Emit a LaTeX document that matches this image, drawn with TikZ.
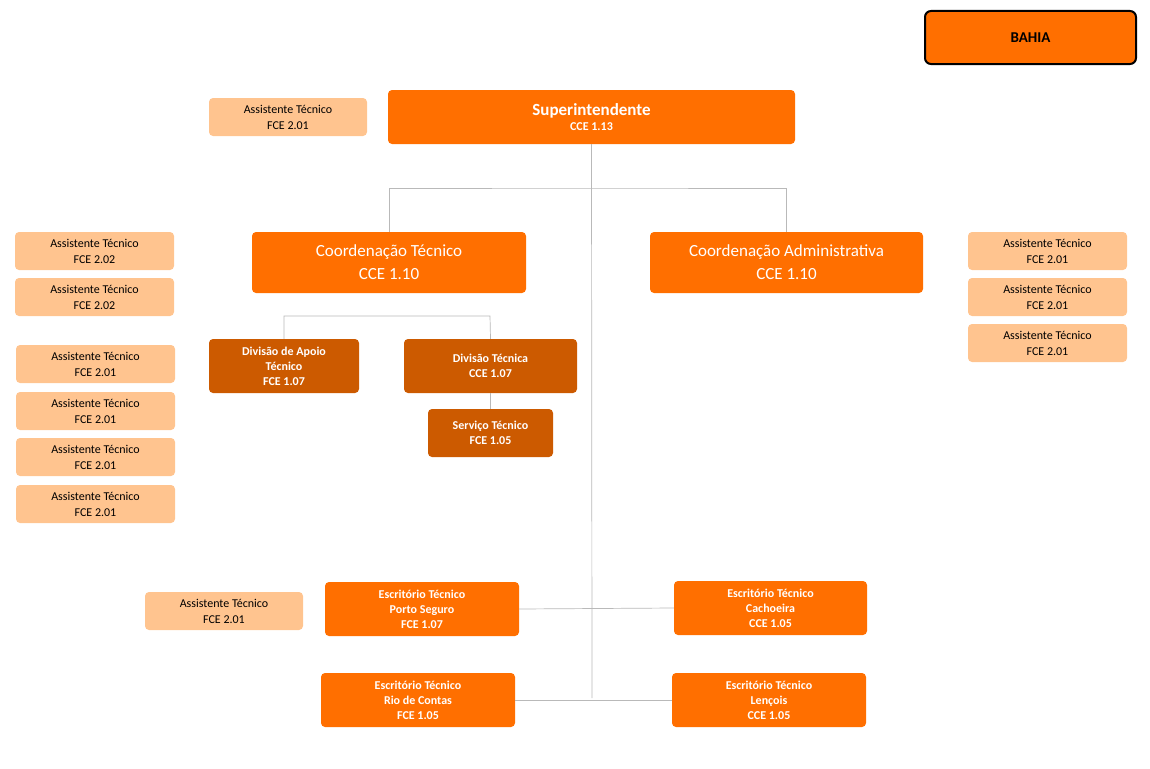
\documentclass[tikz,border=0pt]{standalone}
\usepackage{fontspec}
\setmainfont{Carlito}
\begin{document}
\begin{tikzpicture}[x=1pt,y=-1pt,
 box/.style={rounded corners=4pt,align=center,inner sep=0pt,font=\fontsize{12}{15}\selectfont\bfseries,text=white},
 main/.style={box,fill=orange!90!red,fill=orgC},
 big/.style={box,fill=orgC,font=\fontsize{17}{23}\selectfont},
 dark/.style={box,fill=drkC},
 lite/.style={box,fill=litC,text=black,font=\fontsize{12}{16}\selectfont},
 ln/.style={draw=gray!55,line width=0.7pt}]
\definecolor{orgC}{HTML}{FF6F00}
\definecolor{drkC}{HTML}{CC5A00}
\definecolor{litC}{HTML}{FFC48F}
\useasboundingbox (0,0) rectangle (1150,768);
\newcommand{\bx}[6]{\node[#1,minimum width=#4-#2,minimum height=#5-#3] (#6) at ({(#2+#4)/2},{(#3+#5)/2})}
% connectors
\coordinate (j1) at (592,188); \coordinate (j2) at (592,608); \coordinate (j3) at (592,698);
\bx{main}{388}{90}{795}{144}{sup} {\fontsize{17}{23}\selectfont Superintendente\\CCE 1.13};
\bx{big}{252}{232}{526}{293}{ct} {Coordenação Técnico\\CCE 1.10};
\bx{big}{650}{232}{923}{293}{ca} {Coordenação Administrativa\\CCE 1.10};
\draw[ln] (sup.south) -- (j3);
\draw[ln] (ct.north) |- (j1) -| (ca.north);
\coordinate (k) at (285,316); \coordinate (k2) at (490,316);
\bx{dark}{209}{339}{359}{393}{da} {Divisão de Apoio\\Técnico\\FCE 1.07};
\bx{dark}{404}{339}{577}{393}{dt} {Divisão Técnica\\CCE 1.07};
\bx{dark}{428}{409}{553}{457}{st} {Serviço Técnico\\FCE 1.05};
\draw[ln] (da.north) |- (k2) -- (dt.north);
\draw[ln] (dt.south) -- (st.north);
\bx{main}{325}{582}{519}{636}{ps} {Escritório Técnico\\Porto Seguro\\FCE 1.07};
\bx{main}{674}{581}{867}{635}{ca2} {Escritório Técnico\\Cachoeira\\CCE 1.05};
\bx{main}{321}{673}{515}{727}{rc} {Escritório Técnico\\Rio de Contas\\FCE 1.05};
\bx{main}{672}{673}{866}{727}{le} {Escritório Técnico\\Lençois\\CCE 1.05};
\draw[ln] (ps.east) -- (ca2.west);
\draw[ln] (rc.east) -- (le.west);
\node[draw=black,line width=2pt,fill=orgC,rounded corners=6pt,minimum width=211pt,minimum height=53pt,font=\fontsize{15}{18}\selectfont\bfseries] (ba) at (1030.5,37.5) {BAHIA};
\bx{lite}{209}{98}{367}{136}{a0} {Assistente Técnico\\FCE 2.01};
\bx{lite}{145}{592}{303}{630}{ab} {Assistente Técnico\\FCE 2.01};
\bx{lite}{15}{232}{174}{270}{l1} {Assistente Técnico\\FCE 2.02};
\bx{lite}{15}{278}{174}{316}{l2} {Assistente Técnico\\FCE 2.02};
\bx{lite}{16}{345}{175}{383}{l3} {Assistente Técnico\\FCE 2.01};
\bx{lite}{16}{392}{175}{430}{l4} {Assistente Técnico\\FCE 2.01};
\bx{lite}{16}{438}{175}{476}{l5} {Assistente Técnico\\FCE 2.01};
\bx{lite}{16}{485}{175}{523}{l6} {Assistente Técnico\\FCE 2.01};
\bx{lite}{968}{232}{1127}{270}{r1} {Assistente Técnico\\FCE 2.01};
\bx{lite}{968}{278}{1127}{316}{r2} {Assistente Técnico\\FCE 2.01};
\bx{lite}{968}{324}{1127}{362}{r3} {Assistente Técnico\\FCE 2.01};
\end{tikzpicture}
\end{document}
